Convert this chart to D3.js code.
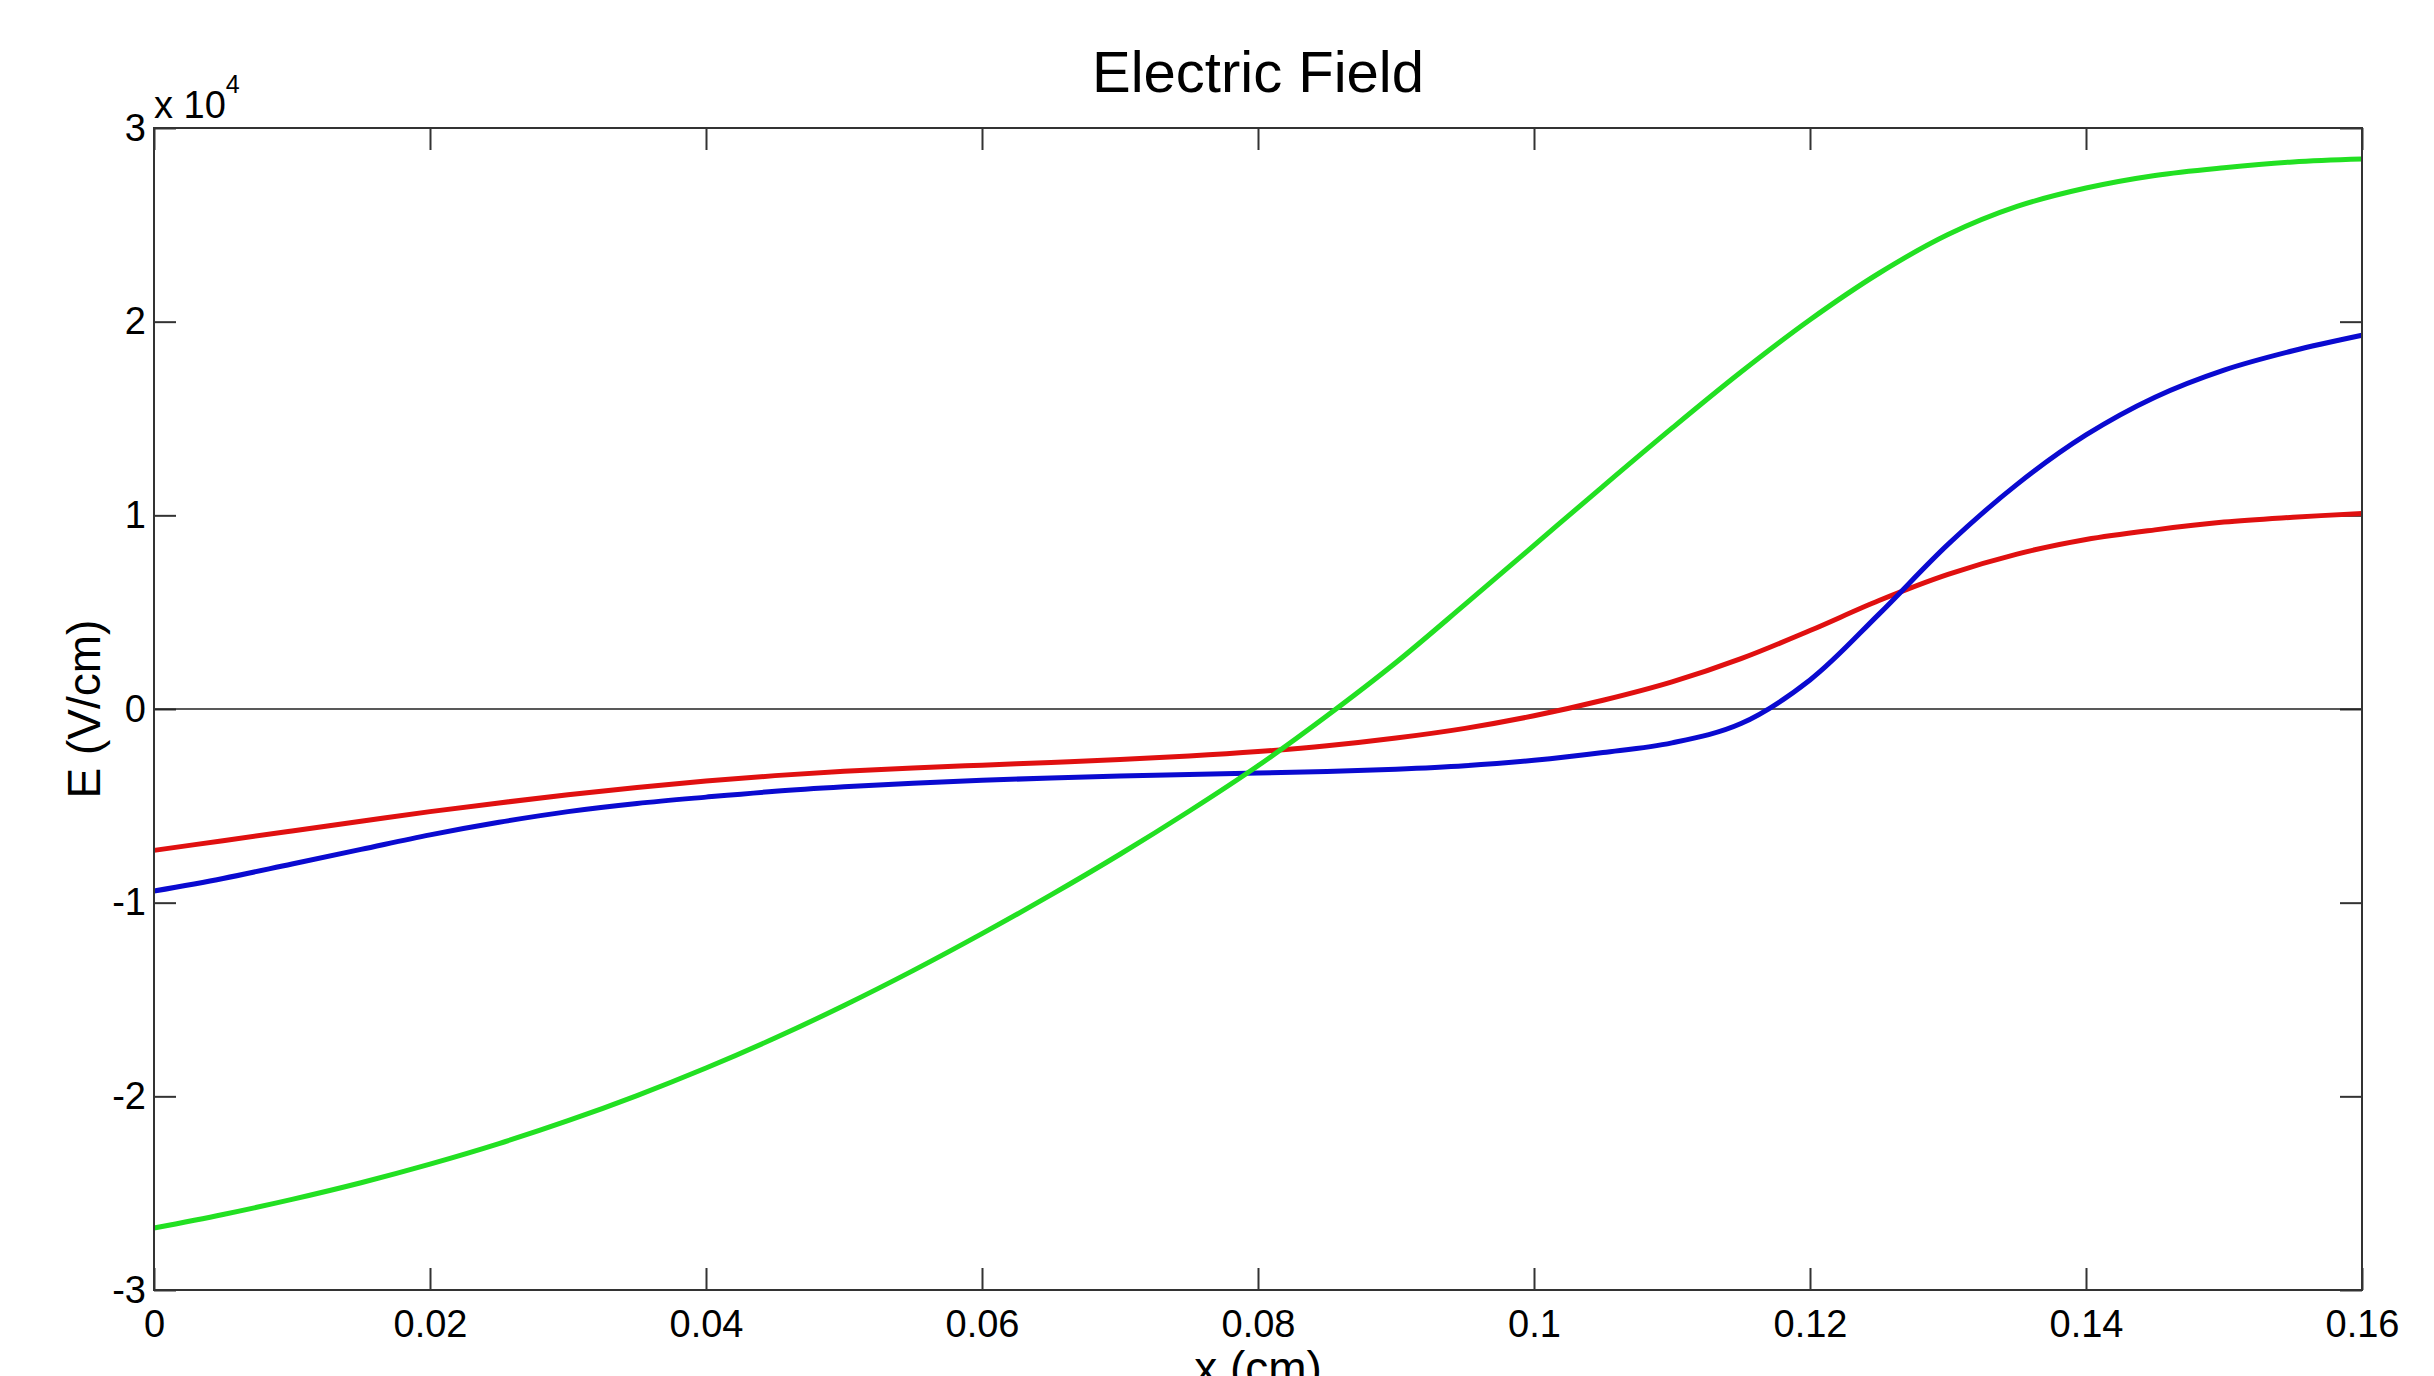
<!DOCTYPE html>
<html>
<head>
<meta charset="utf-8">
<script src="https://cdn.jsdelivr.net/npm/d3@7"></script>
<style>
  body { margin: 0; background: #fff; }
  svg { display: block; font-family: "Liberation Sans", Arial, sans-serif; }
</style>
</head>
<body>
<div id="chart"></div>
<script>
// x positions (cm)
const xValues = [0, 0.005, 0.01, 0.015, 0.02, 0.025, 0.03, 0.035, 0.04, 0.045, 0.05, 0.055,
  0.06, 0.065, 0.07, 0.075, 0.08, 0.085, 0.09, 0.095, 0.1, 0.105, 0.11, 0.115,
  0.12, 0.125, 0.13, 0.135, 0.14, 0.145, 0.15, 0.155, 0.16];

// electric field (V/cm) for each curve
const fieldGreen = [-26800, -26100, -25320, -24460, -23500, -22440, -21260, -19960, -18540, -16990, -15310, -13510,
  -11600, -9600, -7500, -5280, -2930, -350, 2400, 5400, 8450, 11500, 14500, 17400,
  20100, 22500, 24500, 25950, 26900, 27550, 27950, 28250, 28400];
const fieldRed = [-7300, -6800, -6300, -5800, -5300, -4850, -4430, -4050, -3720, -3440, -3220, -3050,
  -2900, -2760, -2610, -2430, -2200, -1900, -1500, -1000, -350, 450, 1400, 2600,
  4050, 5600, 6950, 8000, 8750, 9250, 9650, 9900, 10100];
const fieldBlue = [-9400, -8750, -8000, -7250, -6500, -5850, -5300, -4880, -4550, -4250, -4020, -3830,
  -3680, -3560, -3460, -3380, -3310, -3230, -3110, -2930, -2650, -2250, -1750, -750,
  1500, 4900, 8500, 11600, 14150, 16100, 17500, 18500, 19300];

// tick values
const xTicks = [0, 0.02, 0.04, 0.06, 0.08, 0.1, 0.12, 0.14, 0.16];
const yTicks = [-30000, -20000, -10000, 0, 10000, 20000, 30000];

const series = [
  { name: "red", color: "#e01010", values: fieldRed },
  { name: "blue", color: "#0a0ad0", values: fieldBlue },
  { name: "green", color: "#22e022", values: fieldGreen }
];

const totalWidth = 2434;
const totalHeight = 1376;
const margin = { top: 128, right: 72, bottom: 86, left: 154 };
const width = totalWidth - margin.left - margin.right;
const height = totalHeight - margin.top - margin.bottom;

const svg = d3.select("#chart")
  .append("svg")
  .attr("width", totalWidth)
  .attr("height", totalHeight);

const g = svg.append("g")
  .attr("transform", `translate(${margin.left},${margin.top})`);

// scales
const xScale = d3.scaleLinear().domain([0, 0.16]).range([0, width]);
const yScale = d3.scaleLinear().domain([-30000, 30000]).range([height, 0]);

const tickLen = 22;
const axisColor = "#333";
const fmtX = d => d === 0 ? "0" : String(+d.toFixed(2));
const fmtY = d => String(d / 10000);

// bottom axis, ticks pointing inside
const xAxis = g.append("g")
  .attr("transform", `translate(0,${height})`)
  .call(d3.axisBottom(xScale).tickValues(xTicks).tickSizeInner(-tickLen).tickSizeOuter(0).tickPadding(20).tickFormat(fmtX));
xAxis.select(".domain").remove();
xAxis.selectAll("line").attr("stroke", axisColor).attr("stroke-width", 2);
xAxis.selectAll("text").attr("font-size", 38).attr("fill", "#000")
  .attr("font-family", "Liberation Sans, Arial, sans-serif");

// top axis ticks only
const xTop = g.append("g")
  .call(d3.axisTop(xScale).tickValues(xTicks).tickSizeInner(-tickLen).tickSizeOuter(0).tickFormat(""));
xTop.select(".domain").remove();
xTop.selectAll("line").attr("stroke", axisColor).attr("stroke-width", 2);

// left axis
const yAxis = g.append("g")
  .call(d3.axisLeft(yScale).tickValues(yTicks).tickSizeInner(-tickLen).tickSizeOuter(0).tickPadding(8).tickFormat(fmtY));
yAxis.select(".domain").remove();
yAxis.selectAll("line").attr("stroke", axisColor).attr("stroke-width", 2);
yAxis.selectAll("text").attr("font-size", 38).attr("fill", "#000")
  .attr("font-family", "Liberation Sans, Arial, sans-serif");

// right axis ticks only
const yRight = g.append("g")
  .attr("transform", `translate(${width},0)`)
  .call(d3.axisRight(yScale).tickValues(yTicks).tickSizeInner(-tickLen).tickSizeOuter(0).tickFormat(""));
yRight.select(".domain").remove();
yRight.selectAll("line").attr("stroke", axisColor).attr("stroke-width", 2);

// zero line
g.append("line")
  .attr("x1", 0).attr("x2", width)
  .attr("y1", yScale(0)).attr("y2", yScale(0))
  .attr("stroke", "#222").attr("stroke-width", 1.6);

// curves
const line = d3.line()
  .x((d, i) => xScale(xValues[i]))
  .y(d => yScale(d))
  .curve(d3.curveCatmullRom.alpha(0.5));

g.selectAll("path.curve")
  .data(series)
  .join("path")
  .attr("class", "curve")
  .attr("d", d => line(d.values))
  .attr("fill", "none")
  .attr("stroke", d => d.color)
  .attr("stroke-width", 5)
  .attr("stroke-linejoin", "round");

// box around the plot
g.append("rect")
  .attr("x", 0).attr("y", 0)
  .attr("width", width).attr("height", height)
  .attr("fill", "none")
  .attr("stroke", axisColor)
  .attr("stroke-width", 2);

// exponent label
const expo = g.append("text")
  .attr("x", 0)
  .attr("y", -10)
  .attr("font-size", 38)
  .attr("fill", "#000");
expo.append("tspan").text("x 10");
expo.append("tspan").attr("font-size", 25).attr("dy", -25).text("4");

// title
svg.append("text")
  .attr("x", margin.left + width / 2)
  .attr("y", 92)
  .attr("text-anchor", "middle")
  .attr("font-size", 58)
  .attr("fill", "#000")
  .text("Electric Field");

// axis labels (x label sits at the bottom edge, as in the original)
svg.append("text")
  .attr("x", margin.left + width / 2)
  .attr("y", 1384)
  .attr("text-anchor", "middle")
  .attr("font-size", 46)
  .attr("fill", "#000")
  .text("x (cm)");

svg.append("text")
  .attr("transform", `translate(100,${margin.top + height / 2}) rotate(-90)`)
  .attr("text-anchor", "middle")
  .attr("font-size", 46)
  .attr("fill", "#000")
  .text("E (V/cm)");
</script>
</body>
</html>
